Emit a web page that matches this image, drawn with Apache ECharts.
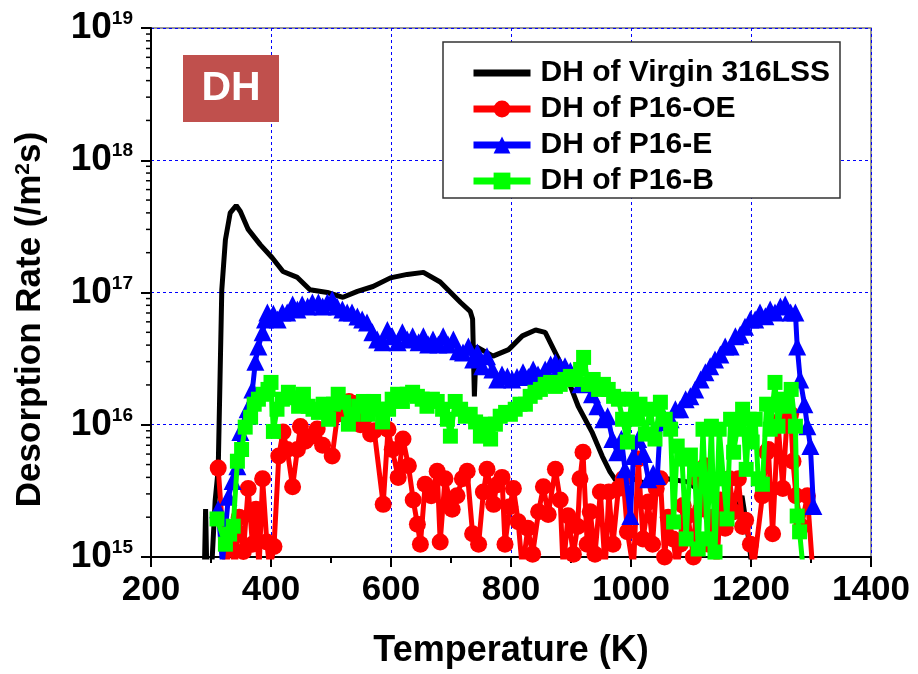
<!DOCTYPE html>
<html><head><meta charset="utf-8">
<script src="https://cdn.jsdelivr.net/npm/echarts@6/dist/echarts.min.js"></script>
<style>html,body{margin:0;padding:0;background:#fff}#c{width:918px;height:674px}</style>
</head><body><div id="c"></div>
<script>
// ---- DATA: [Temperature (K), Desorption rate (/m^2 s)] ----
const virginData = [
[289,8e14],[291,2.3e15],[293,8e14],[301,8e14],[307,2.7e15],[312,4.6e15],[315,2.2e16],[318,1.05e17],
[324,2.5e17],[332,4.0e17],[342,4.55e17],[349,4.1e17],[362,3.0e17],[382,2.3e17],[402,1.83e17],[420,1.44e17],
[444,1.3e17],[465,1.05e17],[494,1.0e17],[520,9.2e16],[544,1.02e17],[570,1.11e17],[599,1.29e17],[627,1.37e17],
[654,1.42e17],[682,1.2e17],[716,8.4e16],[732,7.2e16],[736,6.3e16],[739,1.64e16],[742,3.9e16],[770,3.3e16],
[796,3.7e16],[819,4.7e16],[841,5.2e16],[857,5.0e16],[874,3.5e16],[890,2.5e16],[912,1.38e16],[935,8.8e15],
[952,5.8e15],[965,4.4e15],[982,3.4e15],[1004,3.9e15],[1027,3.55e15],[1060,3.9e15],[1094,3.7e15],[1132,2.75e15],
[1171,1.95e15],[1185,2.9e15],[1196,1.37e15],[1202,8e14]
];
const oeData = [
[312,4.7e15],[324,8e14],[333,1.3e15],[340,8e14],[347,2.0e15],[354,1.1e15],[362,3.3e15],[369,1.25e15],
[375,2.3e15],[380,8e14],[386,3.9e15],[393,1.3e15],[398,8e14],[405,1.2e15],[413,5.8e15],[420,8.8e15],
[427,6.5e15],[436,3.4e15],[444,6.5e15],[449,9.7e15],[457,7.5e15],[468,8.2e15],[477,9.3e15],[486,7.0e15],
[502,5.8e15],[511,1.2e16],[521,1.4e16],[530,1.5e16],[539,1.45e16],[549,1.0e16],[557,1.15e16],[566,8.5e15],
[572,9.0e15],[587,2.5e15],[595,9.2e15],[602,6.5e15],[612,4.0e15],[620,7.8e15],[629,4.9e15],[637,2.7e15],
[644,1.77e15],[649,1.25e15],[657,3.55e15],[667,2.9e15],[677,4.45e15],[682,1.3e15],[690,3.9e15],[698,2.7e15],
[702,2.3e15],[710,2.9e15],[719,3.9e15],[727,4.45e15],[736,1.5e15],[746,1.25e15],[754,3.1e15],[760,4.6e15],
[771,2.5e15],[776,3.5e15],[785,4.0e15],[790,1.25e15],[798,2.4e15],[804,3.3e15],[812,1.85e15],[819,8e14],
[828,1.65e15],[836,1.05e15],[846,2.2e15],[854,3.4e15],[862,2.1e15],[874,4.6e15],[882,2.7e15],[887,8e14],
[895,2.05e15],[904,1.05e15],[911,1.7e15],[915,3.9e15],[920,6.2e15],[927,1.25e15],[932,2.2e15],[940,1.05e15],
[949,3.1e15],[957,8e14],[963,3.1e15],[970,1.25e15],[979,3.3e15],[987,3.9e15],[994,1.55e15],[1004,8e14],
[1012,5.5e15],[1020,1.37e15],[1029,2.6e15],[1036,1.25e15],[1042,3.3e15],[1049,3.9e15],[1056,1.0e15],[1062,2.0e15],
[1070,1.37e15],[1077,8e14],[1082,1.25e15],[1087,2.45e15],[1095,2.05e15],[1104,1.0e15],[1111,3.9e15],[1116,2.3e15],
[1124,4.9e15],[1129,1.25e15],[1135,2.0e15],[1143,8e14],[1149,2.7e15],[1157,1.65e15],[1164,3.9e15],[1171,2.2e15],
[1179,3.9e15],[1186,1.7e15],[1191,1.9e15],[1199,1.25e15],[1204,8e14],[1219,2.9e15],[1226,6.2e15],[1229,6.5e15],
[1236,1.5e15],[1245,1.05e16],[1253,3.3e15],[1260,1.1e16],[1266,1.2e16],[1270,5.3e15],[1275,2.9e15],[1284,1.7e15],
[1294,2.9e15],[1302,9e14]
];
const eData = [
[312,2.3e15],[319,9e14],[329,2.85e15],[336,3.75e15],[344,4.86e15],[349,8.8e15],[361,1.31e16],[369,1.85e16],
[374,3.0e16],[379,3.91e16],[386,5.0e16],[390,6.25e16],[394,7.06e16],[404,6.9e16],[411,6.25e16],[419,7.06e16],
[427,7.06e16],[436,8.1e16],[444,7.45e16],[452,8.1e16],[461,7.84e16],[469,8.4e16],[479,8.4e16],[486,7.84e16],
[494,8.4e16],[502,8.85e16],[510,7.84e16],[519,7.45e16],[527,7.06e16],[535,7.06e16],[544,6.59e16],[552,6.25e16],
[560,5.94e16],[569,5.0e16],[577,4.42e16],[586,4.2e16],[594,5.2e16],[602,4.66e16],[611,4.2e16],[619,5.0e16],
[627,4.42e16],[636,4.66e16],[646,4.2e16],[654,4.66e16],[662,4.05e16],[670,4.42e16],[679,4.05e16],[687,4.66e16],
[695,4.05e16],[704,4.42e16],[712,3.6e16],[720,3.52e16],[729,3.91e16],[737,3.12e16],[744,3.52e16],[752,2.77e16],
[760,3.3e16],[769,2.62e16],[777,2.2e16],[785,2.4e16],[794,2.32e16],[802,2.2e16],[810,2.3e16],[820,2.49e16],
[829,2.3e16],[837,2.62e16],[845,2.4e16],[857,2.62e16],[866,2.85e16],[874,2.96e16],[882,2.77e16],[890,2.77e16],
[899,2.55e16],[907,2.3e16],[916,2.02e16],[927,2.09e16],[935,1.7e16],[944,1.38e16],[954,1.1e16],[961,1.16e16],
[969,7.8e15],[977,6.2e15],[984,7.8e15],[990,4.6e15],[999,2.04e15],[1004,5.8e15],[1012,7.8e15],[1021,6.0e15],
[1029,3.88e15],[1037,4.3e15],[1044,4.1e15],[1049,1.05e16],[1057,1.1e16],[1066,1.1e16],[1074,1.31e16],[1082,1.31e16],
[1091,1.56e16],[1099,1.64e16],[1107,1.85e16],[1116,2.2e16],[1124,2.49e16],[1132,2.77e16],[1140,3.12e16],[1149,3.4e16],
[1157,3.91e16],[1166,3.91e16],[1174,4.66e16],[1182,4.8e16],[1190,5.5e16],[1199,6.25e16],[1207,6.25e16],[1215,7.06e16],
[1224,6.6e16],[1232,7.45e16],[1240,7.06e16],[1249,7.84e16],[1257,8.1e16],[1266,7.06e16],[1274,7.06e16],[1277,3.91e16],
[1282,2.2e16],[1289,1.43e16],[1294,9.75e15],[1299,6.9e15],[1304,2.43e15]
];
const bData = [
[310,1.94e15],[324,1.25e15],[331,1.49e15],[337,1.71e15],[344,5.3e15],[351,6.5e15],[357,9.6e15],[366,1.14e16],
[372,1.43e16],[379,1.56e16],[387,1.7e16],[395,1.85e16],[400,2.09e16],[404,8.9e15],[410,1.31e16],[419,1.56e16],
[429,1.76e16],[437,1.6e16],[446,1.38e16],[454,1.7e16],[462,1.38e16],[470,1.31e16],[479,1.24e16],[487,1.43e16],
[496,1.1e16],[504,1.43e16],[512,1.7e16],[521,1.48e16],[529,1.01e16],[537,1.2e16],[546,1.38e16],[554,1.5e16],
[562,1.2e16],[571,1.5e16],[579,1.31e16],[586,1.05e16],[596,1.31e16],[602,1.56e16],[611,1.7e16],[619,1.5e16],
[627,1.7e16],[636,1.76e16],[644,1.64e16],[652,1.56e16],[660,1.38e16],[669,1.56e16],[677,1.5e16],[686,1.31e16],
[694,1.1e16],[699,8.2e15],[707,1.5e16],[716,1.31e16],[724,1.16e16],[732,1.2e16],[741,1.05e16],[749,8.2e15],
[757,1.01e16],[766,7.8e15],[774,1.01e16],[782,1.16e16],[791,1.24e16],[799,1.2e16],[807,1.31e16],[815,1.43e16],
[824,1.43e16],[832,1.64e16],[840,1.76e16],[849,1.85e16],[857,2.02e16],[866,2.09e16],[874,1.95e16],[882,2.02e16],
[890,2.2e16],[899,2.32e16],[907,2.2e16],[916,2.62e16],[921,3.23e16],[929,2.02e16],[937,2.2e16],[946,1.85e16],
[954,2.02e16],[962,1.85e16],[971,1.64e16],[979,1.56e16],[986,1.1e16],[994,7.4e15],[1001,1.56e16],[1007,1.1e16],
[1015,1.43e16],[1024,8.5e15],[1032,1.31e16],[1040,7.8e15],[1049,1.48e16],[1057,1.1e16],[1066,9.25e15],[1071,1.84e15],
[1077,6.9e15],[1085,5.5e15],[1092,1.37e15],[1099,5.9e15],[1106,4.6e15],[1112,1.15e15],[1120,9.25e15],[1127,1.37e15],
[1134,9.75e15],[1140,1.09e15],[1147,9.25e15],[1154,3.9e15],[1160,1.94e15],[1166,1.1e16],[1171,6.2e15],[1177,9.25e15],
[1186,1.31e16],[1192,4.6e15],[1197,1.1e16],[1202,7.4e15],[1207,1.1e16],[1212,3.9e15],[1219,3.55e15],[1226,1.43e16],
[1232,9.25e15],[1240,2.09e16],[1245,9.75e15],[1252,1.56e16],[1260,1.38e16],[1267,1.85e16],[1274,9.75e15],[1277,2.04e15],
[1281,1.55e15],[1287,8e14]
];
const seriesNames = ['DH of Virgin 316LSS','DH of P16-OE','DH of P16-E','DH of P16-B'];
const xMin = 200, xMax = 1400, xStep = 200;
const yMin = 1e15, yMax = 1e19;
const badgeText = 'DH';

// ---- CHART ----
const FONT = '"Liberation Sans", Arial, sans-serif';
// log-axis minor tick positions (2..9 within each decade)
const minorTickVals = [];
for (let e = 15; e < 19; e++) for (let m = 2; m <= 9; m++) minorTickVals.push([xMin, m * Math.pow(10, e)]);

const chart = echarts.init(document.getElementById('c'), null, {renderer: 'canvas'});
chart.setOption({
  animation: false,
  backgroundColor: '#fff',
  grid: {left: 151, right: 47, top: 28, bottom: 116, show: true, borderColor: '#777', borderWidth: 1.5, backgroundColor: '#fff'},
  xAxis: {
    type: 'value', min: xMin, max: xMax, interval: xStep,
    name: 'Temperature (K)', nameLocation: 'middle', nameGap: 76,
    nameTextStyle: {fontSize: 36, fontWeight: 'bold', color: '#000', fontFamily: FONT},
    axisLine: {show: true, lineStyle: {color: '#000', width: 2}},
    axisTick: {show: true, inside: false, length: 10, lineStyle: {color: '#000', width: 2}},
    minorTick: {show: true, splitNumber: 2, length: 6, lineStyle: {color: '#000', width: 2}},
    axisLabel: {fontSize: 35, fontWeight: 'bold', color: '#000', fontFamily: FONT, margin: 16,
      formatter: v => String(v)},
    splitLine: {show: true, lineStyle: {color: '#0000ff', type: [3, 3], width: 1}}
  },
  yAxis: {
    type: 'log', logBase: 10, min: yMin, max: yMax,
    name: '{a|Desorption Rate (/m}{s|2}{a|s)}', nameLocation: 'middle', nameGap: 103,
    nameTextStyle: {padding: [0, 54, 0, 0], rich: {
      a: {fontSize: 35, fontWeight: 'bold', color: '#000', fontFamily: FONT},
      s: {fontSize: 21, fontWeight: 'bold', color: '#000', fontFamily: FONT, verticalAlign: 'top'}
    }},
    axisLine: {show: true, lineStyle: {color: '#000', width: 2}},
    axisTick: {show: true, inside: false, length: 10, lineStyle: {color: '#000', width: 2}},
    axisLabel: {
      margin: 18,
      formatter: v => '{b|10}{s|' + Math.round(Math.log10(v)) + '}',
      rich: {
        b: {fontSize: 37, fontWeight: 'bold', color: '#000', fontFamily: FONT},
        s: {fontSize: 19, fontWeight: 'bold', color: '#000', fontFamily: FONT, verticalAlign: 'top'}
      }
    },
    splitLine: {show: true, lineStyle: {color: '#0000ff', type: [3, 3], width: 1}}
  },
  legend: {
    orient: 'vertical', left: 470, top: 58, padding: 0,
    itemWidth: 57, itemHeight: 21, itemGap: 6, z: 6,
    textStyle: {fontSize: 30, fontWeight: 'bold', color: '#000', fontFamily: FONT, lineHeight: 30, padding: [0, 0, 0, 5]},
    lineStyle: {width: 7},
    data: [
      {name: seriesNames[0], icon: 'path://M0,0L0.1,0L0.1,0.1Z M0,7H57V14H0Z M0,21L0.1,21L0.1,20.9Z'},
      {name: seriesNames[1]}, {name: seriesNames[2]}, {name: seriesNames[3]}
    ]
  },
  graphic: [
    {type: 'rect', z: 5, shape: {x: 443, y: 42, width: 397, height: 156},
     style: {fill: '#fff', stroke: '#333', lineWidth: 1.5}},
    {type: 'rect', z: 5, shape: {x: 183, y: 55, width: 96, height: 67}, style: {fill: '#C0504D'}},
    {type: 'text', z: 6, x: 231, y: 89, style: {text: badgeText, fill: '#fff', font: 'bold 41px ' + FONT, align: 'center', verticalAlign: 'middle'}}
  ],
  series: [
    {name: seriesNames[0], type: 'line', data: virginData, symbol: 'none', z: 2,
     lineStyle: {color: '#000', width: 5}, itemStyle: {color: '#000'}},
    {name: seriesNames[1], type: 'line', data: oeData, symbol: 'circle', symbolSize: 17, z: 3,
     lineStyle: {color: '#ff0000', width: 5}, itemStyle: {color: '#ff0000'}},
    {name: seriesNames[2], type: 'line', data: eData, symbol: 'triangle', symbolSize: 18, z: 4,
     lineStyle: {color: '#0000ff', width: 5}, itemStyle: {color: '#0000ff'}},
    {name: seriesNames[3], type: 'line', data: bData, symbol: 'rect', symbolSize: 15, z: 5,
     lineStyle: {color: '#00ff00', width: 5}, itemStyle: {color: '#00ff00'}},
    {type: 'custom', data: minorTickVals, silent: true, z: 6, clip: false,
     renderItem: (params, api) => {
       const p = api.coord([api.value(0), api.value(1)]);
       return {type: 'line', shape: {x1: p[0] - 5, y1: p[1], x2: p[0], y2: p[1]}, style: {stroke: '#000', lineWidth: 1.5}};
     }}
  ]
});
</script></body></html>
